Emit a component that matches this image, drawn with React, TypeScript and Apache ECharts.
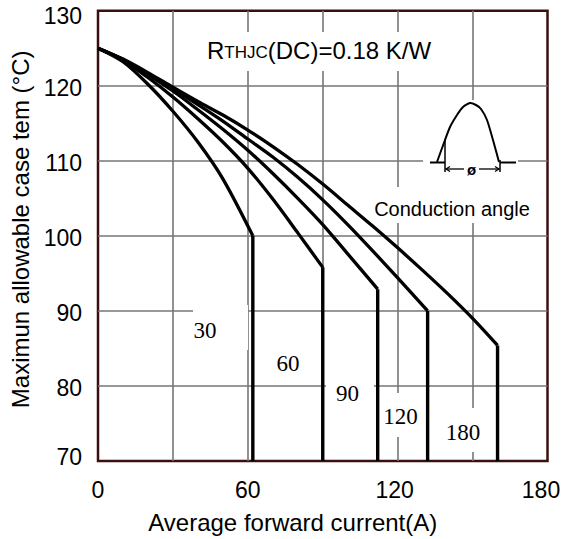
import React, { useEffect, useRef } from "react";
import * as echarts from "echarts";

// Conduction angles (degrees) of the five curves
const conductionAngles = ["30", "60", "90", "120", "180"];

// Average forward current (A) / max case temperature (°C)
const curve30 = [[0, 125], [10, 123.2], [20, 120.2], [30, 116.6], [40, 112.5], [50, 107.6], [62, 100]];
const curve60 = [[0, 125], [10, 123.4], [20, 121.1], [30, 118.5], [40, 115.6], [50, 112.5], [60, 109.0], [70, 104.9], [80, 100.4], [90, 95.8]];
const curve90 = [[0, 125], [10, 123.5], [20, 121.5], [30, 119.3], [40, 116.8], [50, 114.2], [60, 111.4], [70, 108.3], [80, 105.0], [90, 101.5], [100, 97.6], [112, 92.9]];
const curve120 = [[0, 125], [10, 123.5], [20, 121.6], [30, 119.6], [40, 117.5], [50, 115.3], [60, 112.9], [70, 110.5], [80, 107.8], [90, 104.8], [100, 101.5], [110, 98.0], [120, 94.4], [132, 90]];
const curve180 = [[0, 125], [10, 123.55], [20, 121.75], [30, 119.8], [40, 117.9], [50, 116.1], [60, 114.1], [70, 111.9], [80, 109.5], [90, 106.9], [100, 104.1], [110, 101.3], [120, 98.4], [130, 95.4], [140, 92.3], [150, 89.0], [160, 85.4]];

const curves = [curve30, curve60, curve90, curve120, curve180];

// Axis ranges / ticks
const xMin = 0, xMax = 180, xStep = 30, xLabelStep = 60;
const yMin = 70, yMax = 130, yStep = 10;

const FONT = "Liberation Sans, Arial, sans-serif";
const SERIF = "Liberation Serif, Times New Roman, serif";
const BORDER = "#3b0f0f";
const GRIDC = "#767676";

export default function App() {
  const ref = useRef<HTMLDivElement>(null);

  useEffect(() => {
    if (!ref.current) return;
    const chart = echarts.init(ref.current, undefined, { renderer: "svg" });

    const series: any[] = [];
    curves.forEach((c, i) => {
      const last = c[c.length - 1];
      series.push({
        type: "line",
        name: conductionAngles[i],
        data: c,
        smooth: 0.3,
        showSymbol: false,
        symbol: "none",
        lineStyle: { color: "#000", width: 3.3 },
        z: 3,
      });
      series.push({
        type: "line",
        name: conductionAngles[i] + "-drop",
        data: [last, [last[0], yMin]],
        showSymbol: false,
        symbol: "none",
        lineStyle: { color: "#000", width: 3.4 },
        z: 3,
      });
    });

    const maskRect = (x: number, y: number, w: number, h: number) => ({
      type: "rect",
      shape: { x, y, width: w, height: h },
      style: { fill: "#fff" },
      z: 1,
      silent: true,
    });

    const curveLabel = (t: string, cx: number, cy: number) => ({
      type: "text",
      x: cx,
      y: cy,
      style: {
        text: t,
        fontFamily: SERIF,
        fontSize: 23,
        fill: "#000",
        align: "center",
        verticalAlign: "middle",
      },
      z: 6,
    });

    const blackLine = (x1: number, y1: number, x2: number, y2: number, w = 2) => ({
      type: "line",
      shape: { x1, y1, x2, y2 },
      style: { stroke: "#000", lineWidth: w },
      z: 6,
    });

    const graphic: any[] = [
      // white masks that interrupt the grid
      maskRect(200, 32, 255, 39),
      maskRect(423, 100, 95, 87),
      maskRect(360, 187, 185, 36),
      maskRect(193, 305, 55, 45),
      maskRect(275, 350, 28, 26),
      maskRect(326, 376, 48, 34),
      maskRect(381, 393, 44, 44),
      maskRect(440, 408, 50, 44),
      // R_THJC text
      {
        type: "text",
        x: 207,
        y: 62,
        style: {
          text: "{big|R}{small|THJC}{big|(DC)=0.18 K/W}",
          fill: "#000",
          fontFamily: FONT,
          verticalAlign: "bottom",
          rich: {
            big: { fontSize: 24, fontFamily: FONT, fill: "#000", verticalAlign: "bottom", lineHeight: 28 },
            small: { fontSize: 17, fontFamily: FONT, fill: "#000", verticalAlign: "bottom", lineHeight: 28, padding: [0, 0, 1.5, 0] },
          },
        },
        z: 6,
      },
      {
        type: "text",
        x: 452,
        y: 209,
        style: { text: "Conduction angle", fontFamily: FONT, fontSize: 20, fill: "#000", align: "center", verticalAlign: "middle" },
        z: 6,
      },
      // conduction angle icon
      {
        type: "polyline",
        shape: {
          points: [[437, 162], [445, 140], [450, 127], [457, 115], [463, 107], [470, 103], [476, 105], [481, 109], [487, 120], [493, 140], [499, 162]],
          smooth: 0.2,
        },
        style: { stroke: "#000", lineWidth: 2, fill: "none" },
        z: 6,
      },
      blackLine(430, 162.5, 445, 162.5, 2),
      blackLine(500, 162.5, 516, 162.5, 2),
      blackLine(445, 140, 445, 172, 1.5),
      blackLine(500, 160, 500, 172, 1.5),
      blackLine(446, 169, 464, 169, 1.3),
      blackLine(479, 169, 499, 169, 1.3),
      {
        type: "polyline",
        shape: { points: [[450, 166.5], [446, 169], [450, 171.5]] },
        style: { stroke: "#000", lineWidth: 1.3, fill: "none" },
        z: 6,
      },
      {
        type: "polyline",
        shape: { points: [[495, 166.5], [499, 169], [495, 171.5]] },
        style: { stroke: "#000", lineWidth: 1.3, fill: "none" },
        z: 6,
      },
      {
        type: "text",
        x: 471.5,
        y: 169,
        style: { text: "ø", fontFamily: FONT, fontSize: 15, fontWeight: "bold", fill: "#000", align: "center", verticalAlign: "middle" },
        z: 6,
      },
      // curve labels
      curveLabel(conductionAngles[0], 205, 330),
      curveLabel(conductionAngles[1], 288, 363),
      curveLabel(conductionAngles[2], 347.5, 393.5),
      curveLabel(conductionAngles[3], 400.5, 416),
      curveLabel(conductionAngles[4], 463, 432.5),
    ];

    const tickFont = { fontSize: 23, color: "#000", fontFamily: FONT };

    chart.setOption({
      animation: false,
      backgroundColor: "#fff",
      grid: {
        left: 98,
        right: 14.5,
        top: 10.7,
        bottom: 78,
        show: true,
        borderColor: BORDER,
        borderWidth: 2.5,
        backgroundColor: "transparent",
        containLabel: false,
        outerBoundsMode: "none",
      },
      xAxis: {
        type: "value",
        min: xMin,
        max: xMax,
        interval: xStep,
        name: "Average forward current(A)",
        nameLocation: "middle",
        nameGap: 49,
        nameTextStyle: { fontSize: 24, color: "#000", fontFamily: FONT, padding: [0, 60, 0, 0] },
        axisLine: { show: false },
        axisTick: { show: false },
        axisLabel: {
          ...tickFont,
          margin: 17,
          formatter: (v: number) => {
            if (v % xLabelStep !== 0) return "";
            if (v === xMax) return "{e|" + v + "}";
            if (v === 120) return "{m|" + v + "}";
            return "{n|" + v + "}";
          },
          rich: {
            n: { ...tickFont },
            m: { ...tickFont, padding: [0, 6, 0, 0] },
            e: { ...tickFont, padding: [0, 13, 0, 0] },
          },
        },
        splitLine: { show: true, showMinLine: false, showMaxLine: false, lineStyle: { color: GRIDC, width: 1.6 } },
      },
      yAxis: {
        type: "value",
        min: yMin,
        max: yMax,
        interval: yStep,
        name: "Maximun allowable case tem (°C)",
        nameLocation: "middle",
        nameRotate: 90,
        nameGap: 63,
        nameTextStyle: { fontSize: 24, color: "#000", fontFamily: FONT, padding: [0, 0, 0, 13] },
        axisLine: { show: false },
        axisTick: { show: false },
        axisLabel: {
          ...tickFont,
          margin: 16,
          formatter: (v: number) => {
            if (v === yMax) return "{t|" + v + "}";
            if (v === yMin) return "{b|" + v + "}";
            return "{n|" + v + "}";
          },
          rich: {
            n: { ...tickFont, padding: [4, 0, 0, 0] },
            t: { ...tickFont, padding: [10, 0, 0, 0] },
            b: { ...tickFont, padding: [0, 0, 8, 0] },
          },
        },
        splitLine: { show: true, showMinLine: false, showMaxLine: false, lineStyle: { color: GRIDC, width: 1.6 } },
      },
      series,
      graphic,
    });

    return () => chart.dispose();
  }, []);

  return (
    <div
      ref={ref}
      style={{ position: "fixed", left: 0, top: 0, width: "562px", height: "539px", background: "#fff" }}
    />
  );
}
